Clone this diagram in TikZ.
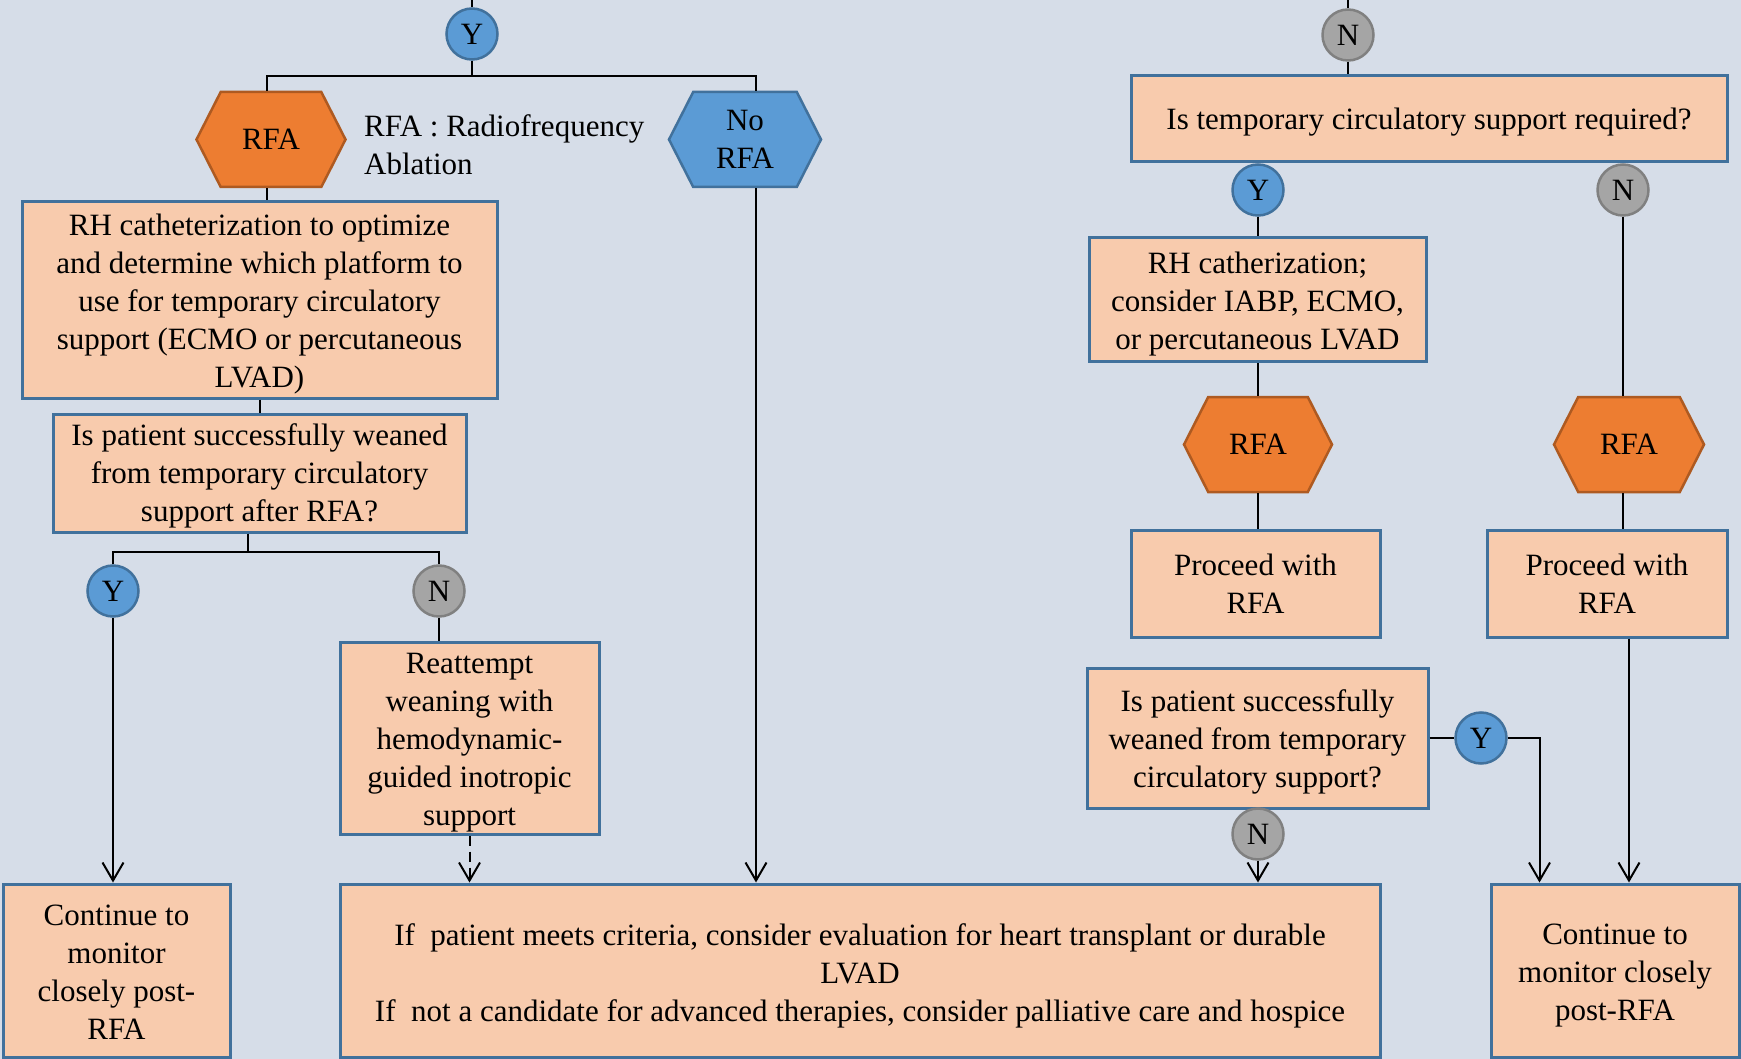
\documentclass[tikz,border=0pt]{standalone}
\usepackage{fontspec}
\setmainfont{Liberation Serif}
\usetikzlibrary{shapes.symbols,arrows.meta,calc}
\definecolor{bgc}{HTML}{D6DDE8}
\definecolor{peach}{HTML}{F8CBAD}
\definecolor{bblue}{HTML}{41719C}
\definecolor{cblue}{HTML}{5B9BD5}
\definecolor{corange}{HTML}{ED7D31}
\definecolor{borange}{HTML}{AE5A21}
\definecolor{cgrey}{HTML}{A5A5A5}
\definecolor{bgrey}{HTML}{808080}
\begin{document}
\begin{tikzpicture}[x=1pt,y=-1pt,
  every node/.style={font=\fontsize{31}{38}\selectfont, inner sep=0pt, align=center},
  box/.style={rectangle, draw=bblue, fill=peach, line width=3pt},
  sz/.style 2 args={minimum width=#1pt, minimum height=#2pt},
  yes/.style={circle, draw=bblue, fill=cblue, line width=2.5pt, minimum size=51pt},
  nob/.style={circle, draw=bgrey, fill=cgrey, line width=2.5pt, minimum size=51pt},
  hex/.style={signal, signal to=east and west, signal pointer angle=126, line width=2.5pt},
  rfahex/.style={hex, fill=corange, draw=borange},
  norfahex/.style={hex, fill=cblue, draw=bblue},
  con/.style={draw=black, line width=2pt},
  arr/.style={con, -{Straight Barb[length=18pt,width=21pt]}}]
\useasboundingbox (0,0) rectangle (1741,1059);
\fill[bgc] (0,0) rectangle (1741,1059);
% left column
\node[yes] (y1) at (472,34) {Y};
\node[rfahex, sz={149}{95}] (rfa1) at (271,139.5) {RFA};
\node[anchor=west, align=left] (leg) at (364,145) {RFA : Radiofrequency\\Ablation};
\node[norfahex, sz={152}{95}] (norfa) at (745,139.5) {No\\RFA};
\node[box, sz={475}{196}] (b1) at (259.5,300) {};
\node (b1t) at ([yshift=-4pt]b1.center) {RH catheterization to optimize\\and determine which platform to\\use for temporary circulatory\\support (ECMO or percutaneous\\LVAD)};
\node[box, sz={413}{118}] (b2) at (259.5,473) {};
\node (b2t) at ([yshift=-3pt]b2.center) {Is patient successfully weaned\\from temporary circulatory\\support after RFA?};
\node[yes] (y2) at (113,591) {Y};
\node[nob] (n2) at (439,591) {N};
\node[box, sz={259}{192}] (re) at (469.5,738) {};
\node (ret) at ([yshift=-5pt]re.center) {Reattempt\\weaning with\\hemodynamic-\\guided inotropic\\support};
\node[box, sz={227}{173}] (cont1) at (116.5,970.5) {};
\node (cont1t) at ([yshift=-2pt]cont1.center) {Continue to\\monitor\\closely post-\\RFA};
\node[box, sz={1040}{173}] (big) at (860,970.5) {};
\node (bigt) at ([yshift=-5.5pt]big.center) {If\ \ patient meets criteria, consider evaluation for heart transplant or durable\\LVAD\\If\ \ not a candidate for advanced therapies, consider palliative care and hospice};
% right column
\node[nob] (n1) at (1348,35) {N};
\node[box, sz={596}{86}] (q1) at (1429,119) {};
\node (q1t) at ([yshift=-3.5pt]q1.center) {Is temporary circulatory support required?};
\node[yes] (y3) at (1258,190) {Y};
\node[nob] (n3) at (1623,190) {N};
\node[box, sz={337}{124}] (rh2) at (1257.5,300) {};
\node (rh2t) at ([yshift=-4pt]rh2.center) {RH catherization;\\consider IABP, ECMO,\\or percutaneous LVAD};
\node[rfahex, sz={148}{95}] (rfa2) at (1258,444.5) {RFA};
\node[rfahex, sz={150}{95}] (rfa3) at (1629,444.5) {RFA};
\node[box, sz={249}{107}] (pro1) at (1255.5,583.5) {Proceed with\\RFA};
\node[box, sz={240}{107}] (pro2) at (1607,583.5) {Proceed with\\RFA};
\node[box, sz={341}{140}] (q2) at (1257.5,738) {};
\node (q2t) at ([yshift=-4pt]q2.center) {Is patient successfully\\weaned from temporary\\circulatory support?};
\node[yes] (y4) at (1481,738) {Y};
\node[nob] (n4) at (1258,834) {N};
\node[box, sz={248}{173}] (cont2) at (1615,970.5) {};
\node (cont2t) at ([yshift=-5pt]cont2.center) {Continue to\\monitor closely\\post-RFA};
% connectors left
\coordinate (topYin) at (472,0);
\draw[con] (topYin) -- (y1.north);
\coordinate (br1) at (472,76);
\draw[con] (y1.south) -- (br1);
\coordinate (r1n) at ([xshift=-4pt]rfa1.north);
\coordinate (nrn) at ([xshift=11pt]norfa.north);
\draw[con] (r1n) |- (br1) -| (nrn);
\coordinate (r1s) at ([xshift=-4pt]rfa1.south);
\draw[con] (r1s) -- (r1s |- b1.north);
\coordinate (nrs) at ([xshift=11pt]norfa.south);
\draw[arr] (nrs) -- (nrs |- big.north);
\draw[con] (b1.south) -- (b2.north);
\coordinate (b2s) at ([xshift=-11.5pt]b2.south);
\coordinate (br2) at ($(b2s)+(0,18)$);
\draw[con] (b2s) -- (br2);
\draw[con] (y2.north) |- (br2) -| (n2.north);
\draw[arr] (y2.south) -- (y2.south |- cont1.north);
\draw[con] (n2.south) -- (n2.south |- re.north);
\draw[arr, dash pattern=on 10pt off 6pt] (re.south) -- (re.south |- big.north);
% connectors right
\coordinate (topNin) at (1348,0);
\draw[con] (topNin) -- (n1.north);
\draw[con] (n1.south) -- (n1.south |- q1.north);
\draw[con] (y3.south) -- (y3.south |- rh2.north);
\draw[con] (rh2.south) -- (rh2.south |- rfa2.north);
\draw[con] (n3.south) -- (n3.south |- rfa3.north);
\draw[con] (rfa2.south) -- (rfa2.south |- pro1.north);
\draw[con] (n3.south |- rfa3.south) -- (n3.south |- pro2.north);
\draw[arr] (rfa3.south |- pro2.south) -- (rfa3.south |- cont2.north);
\draw[con] (q2.east) -- (y4.west);
\draw[arr] (y4.east) -| ($(cont2.north west)+(50,0)$);
\draw[arr] (n4.south) -- (n4.south |- big.north);
\end{tikzpicture}
\end{document}
